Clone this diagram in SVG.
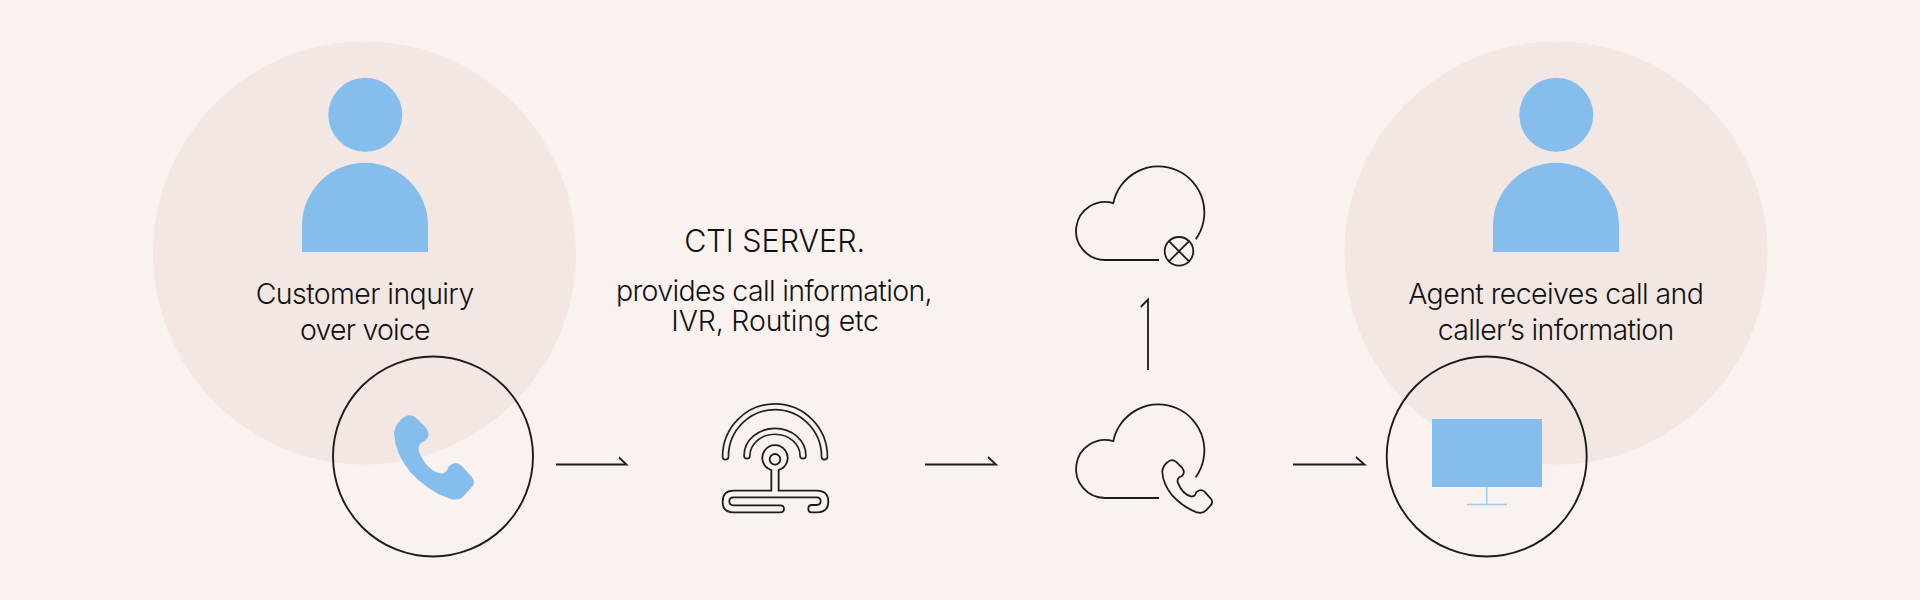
<svg xmlns="http://www.w3.org/2000/svg" xmlns:xlink="http://www.w3.org/1999/xlink" width="1920" height="600" viewBox="0 0 1920 600">
<style>
.halo{fill:#f3e7e3}
.blue{fill:#85bded}
.ring{fill:none;stroke:#1c1c1c;stroke-width:1.9}
.ln{fill:none;stroke:#1c1c1c;stroke-width:1.8}
.ns{vector-effect:non-scaling-stroke}
text{font-family:"Inter","Liberation Sans",sans-serif;font-weight:300;font-size:28.5px;fill:#111;text-anchor:middle}
</style>
<defs>
<path id="ph" d="M245,207Q268,185 290,205L318,233Q335,255 315,273Q290,280 297,305Q320,360 360,370Q380,372 385,350Q405,330 425,347L455,380Q470,400 452,415L432,437Q415,455 385,445Q320,420 270,365Q225,310 222,250Q225,225 245,207Z"/>
<g id="cloud"><path class="ln" d="M1159,260H1105A29,29 0 1 1 1113.3,203.2A46,46 0 1 1 1195.7,239.3"/></g>
</defs>
<rect width="1920" height="600" fill="#f9f2ef"/>
<g id="customer">
<circle class="halo" cx="364.5" cy="253" r="211.5"/>
<circle class="blue" cx="365.3" cy="114.8" r="37"/>
<path class="blue" d="M302,252V225.7A63,63 0 0 1 428,225.7V252Z"/>
<text x="365" y="304.3" textLength="218.6">Customer inquiry</text>
<text x="365.3" y="339.5" textLength="130.7">over voice</text>
<circle class="ring" cx="433" cy="456.5" r="100"/>
<use xlink:href="#ph" class="blue" transform="translate(320 350) scale(.3333)"/>
</g>
<g id="cti-server">
<text x="774.7" y="252.3" style="font-size:30.5px">CTI SERVER.</text>
<text x="774.3" y="301" textLength="316.7">provides call information,</text>
<text x="775.2" y="331" textLength="207.7">IVR, Routing etc</text>
<g fill="none" stroke-linecap="round">
<path stroke="#222" stroke-width="7.6" d="M725.5,456.7A49.5,50 0 0 1 824.5,456.7M747,455.7A28,24.4 0 0 1 803,455.7"/>
<path stroke="#f9f2ef" stroke-width="4.2" d="M725.5,456.7A49.5,50 0 0 1 824.5,456.7M747,455.7A28,24.4 0 0 1 803,455.7"/>
</g>
<g transform="translate(700 390) scale(.3333)">
<path class="ln ns" d="M236,302L350,302Q385,302 385,335Q385,367 350,367L335,367Q325,367 325,356Q325,345 335,345L350,345Q362,345 362,334Q362,322 350,322L100,322Q88,322 88,334Q88,346 100,346L240,346Q252,346 252,356Q252,367 240,367L100,367Q68,367 68,335Q68,302 100,302L214,302L214,240A38,38 0 1 1 236,240Z"/>
<circle class="ln ns" cx="225" cy="208" r="16"/>
</g>
</g>
<g id="cloud-call">
<use xlink:href="#cloud" transform="translate(0 238)"/>
<use xlink:href="#ph" fill="none" stroke="#1c1c1c" stroke-width="8.4" transform="translate(1116 419.4) scale(.2083)"/>
</g>
<g id="cloud-cross">
<use xlink:href="#cloud"/>
<circle class="ln" cx="1179" cy="251.3" r="14.3"/>
<path class="ln" d="M1168.9,241.2L1189.1,261.4M1189.1,241.2L1168.9,261.4"/>
</g>
<g id="agent">
<circle class="halo" cx="1556" cy="253" r="211.5"/>
<circle class="blue" cx="1556.3" cy="114.8" r="37"/>
<path class="blue" d="M1493,252V225.7A63,63 0 0 1 1619,225.7V252Z"/>
<text x="1556" y="303.5" textLength="295.7">Agent receives call and</text>
<text x="1556" y="339.5" textLength="236.7">caller’s information</text>
<circle class="ring" cx="1486.7" cy="456.5" r="100"/>
<rect class="blue" x="1432" y="419" width="110" height="68"/>
<path d="M1486.7,487V504M1467,504.5H1507" fill="none" stroke="#9ccbf0" stroke-width="1.5"/>
</g>
<g id="connectors">
<path class="ln" d="M556,464.5H626.5L619,457.5"/>
<path class="ln" d="M925,464.5H996L988,457"/>
<path class="ln" d="M1293,464.5H1364.5L1356,457"/>
<path class="ln" d="M1148,370V299.5L1140.7,307"/>
</g>
</svg>
